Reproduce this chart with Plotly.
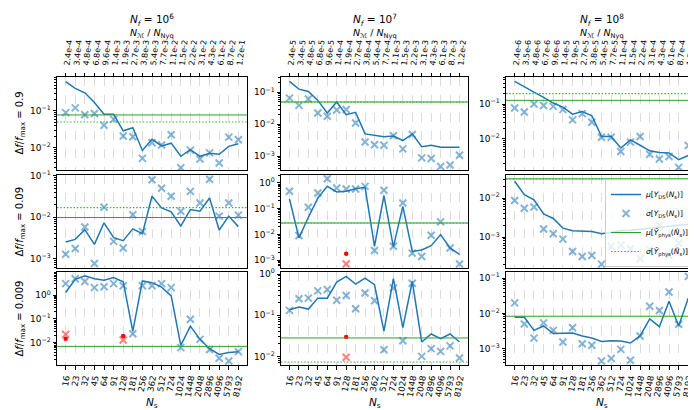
import plotly.graph_objects as go
from plotly.subplots import make_subplots

# ---------------- data ----------------
ns_labels = ["16", "23", "32", "45", "64", "91", "128", "181", "256", "362",
             "512", "724", "1024", "1448", "2048", "2896", "4096", "5793", "8192"]
ratio_nf6 = ["2.4e-4", "3.4e-4", "4.8e-4", "6.8e-4", "9.6e-4", "1.4e-3", "1.9e-3", "2.7e-3", "3.8e-3",
             "5.4e-3", "7.7e-3", "1.1e-2", "1.5e-2", "2.2e-2", "3.1e-2", "4.3e-2", "6.1e-2", "8.7e-2", "1.2e-1"]
ratio_nf7 = ["2.4e-5", "3.4e-5", "4.8e-5", "6.8e-5", "9.6e-5", "1.4e-4", "1.9e-4", "2.7e-4", "3.8e-4",
             "5.4e-4", "7.7e-4", "1.1e-3", "1.5e-3", "2.2e-3", "3.1e-3", "4.3e-3", "6.1e-3", "8.7e-3", "1.2e-2"]
ratio_nf8 = ["2.4e-6", "3.5e-6", "4.8e-6", "6.7e-6", "9.6e-6", "1.4e-5", "1.9e-5", "2.7e-5", "3.8e-5",
             "5.4e-5", "7.7e-5", "1.1e-4", "1.5e-4", "2.2e-4", "3.1e-4", "4.3e-4", "6.1e-4", "8.7e-4", "1.2e-3"]
nf_exponents = [6, 7, 8]
df_labels = ["0.9", "0.09", "0.009"]
y_tick_exponents = [-4, -3, -2, -1, 0, 1]
y_tick_labels = ["10<sup>−4</sup>", "10<sup>−3</sup>", "10<sup>−2</sup>", "10<sup>−1</sup>",
                 "10<sup>0</sup>", "10<sup>1</sup>"]

# Nf = 1e6
mu_nf6_df09 = [0.62, 0.41, 0.31, 0.17, 0.081, 0.081, 0.029, 0.035, 0.0085, 0.017, 0.0113, 0.0134,
               0.0059, 0.0089, 0.0059, 0.0071, 0.0067, 0.011, 0.0129]
sigma_nf6_df09 = [0.090, 0.121, 0.079, 0.085, 0.041, 0.059, 0.021, 0.020, 0.0052, 0.0137, 0.012, 0.0226,
                  0.0029, 0.0087, 0.0050, 0.0073, 0.0039, 0.0195, 0.0165]
mu_nf6_df009 = [0.0025, 0.0029, 0.0050, 0.0022, 0.0073, 0.0032, 0.0027, 0.0052, 0.0040, 0.032, 0.0167,
                0.0134, 0.0061, 0.0153, 0.0139, 0.029, 0.0049, 0.0106, 0.0059]
sigma_nf6_df009 = [0.00127, 0.00174, 0.0058, 0.00076, 0.0174, 0.0026, 0.0018, 0.0114, 0.0045, 0.080, 0.050,
                   0.032, 0.0139, 0.042, 0.022, 0.083, 0.0106, 0.022, 0.0112]
mu_nf6_df0009 = [1.3, 4.7, 6.6, 5.0, 4.3, 5.6, 3.7, 0.031, 4.0, 3.4, 2.2, 0.94, 0.0077, 0.050, 0.0138,
                 0.0056, 0.0032, 0.0039, 0.0042]
sigma_nf6_df0009 = [3.1, 5.0, 3.8, 2.1, 2.3, 3.1, 2.5, 0.024, 2.5, 2.5, 3.1, 2.1, 0.0062, 0.097, 0.0138,
                    0.0052, 0.0022, 0.0017, 0.0042]
# Nf = 1e7
mu_nf7_df09 = [0.22, 0.126, 0.107, 0.056, 0.0225, 0.050, 0.020, 0.0236, 0.0050, 0.0045, 0.0041, 0.0043,
               0.0031, 0.0050, 0.0020, 0.0022, 0.0019, 0.0019, 0.0019]
sigma_nf7_df09 = [0.066, 0.039, 0.062, 0.0225, 0.0178, 0.028, 0.029, 0.011, 0.0028, 0.0023, 0.0022, 0.0044,
                  0.0017, 0.0048, 0.00089, 0.00085, 0.00048, 0.00053, 0.00107]
mu_nf7_df009 = [0.24, 0.0074, 0.047, 0.26, 0.74, 0.45, 0.48, 0.60, 0.68, 0.0035, 0.32, 0.0033, 0.124,
                0.0022, 0.0025, 0.0037, 0.0099, 0.0030, 0.0017]
sigma_nf7_df009 = [0.48, 0.0091, 0.114, 0.41, 1.47, 0.64, 0.58, 0.58, 0.74, 0.0024, 0.52, 0.0035, 0.168,
                   0.0019, 0.0014, 0.0093, 0.031, 0.0030, 0.00072]
mu_nf7_df0009 = [0.136, 0.158, 0.141, 0.26, 0.26, 0.64, 0.88, 0.57, 0.80, 0.55, 0.041, 0.77, 0.050, 0.66,
                 0.0223, 0.035, 0.027, 0.035, 0.0223]
sigma_nf7_df0009 = [0.131, 0.25, 0.26, 0.39, 0.42, 0.23, 0.30, 0.144, 0.345, 0.224, 0.0145, 0.46, 0.024,
                    0.60, 0.0100, 0.0154, 0.0132, 0.018, 0.0091]
# Nf = 1e8
mu_nf8_df09 = [0.45, 0.31, 0.22, 0.156, 0.107, 0.082, 0.051, 0.061, 0.046, 0.0116, 0.0116, 0.0054, 0.0093,
               0.0065, 0.0045, 0.0040, 0.0039, 0.0025, 0.0033]
sigma_nf8_df09 = [0.077, 0.059, 0.10, 0.091, 0.086, 0.069, 0.035, 0.053, 0.030, 0.0110, 0.0110, 0.0043,
                  0.0080, 0.0116, 0.0036, 0.0026, 0.0031, 0.0015, 0.0064]
mu_nf8_df009 = [0.027, 0.0122, 0.0090, 0.0039, 0.0030, 0.0017, 0.00146, 0.00140, 0.00140, 0.00122, 0.00135,
                0.00146, 0.0015, 0.0016, 0.0017, 0.0018, 0.0019, 0.0020, 0.0021]
sigma_nf8_df009 = [0.0087, 0.0055, 0.0059, 0.00162, 0.00122, 0.00089, 0.00043, 0.00032, 0.00034, 0.000204,
                   0.00058, 0.00063, 0.00050, 0.00028, 0.00048, 0.002, 0.00034, 0.00070, 0.00041]
mu_nf8_df0009 = [0.0078, 0.0078, 0.0033, 0.0044, 0.0027, 0.0027, 0.0028, 0.0023, 0.0020, 0.00161, 0.00169,
                 0.00165, 0.00145, 0.0023, 0.0070, 0.0042, 0.022, 0.0044, 0.027]
sigma_nf8_df0009 = [0.0198, 0.0050, 0.0020, 0.0054, 0.0033, 0.00155, 0.0039, 0.00139, 0.00126, 0.00045,
                    0.00053, 0.00096, 0.00047, 0.0023, 0.0159, 0.0120, 0.040, 0.0049, 0.111]

# physical reference levels, rows = df, cols = Nf
phys_mu = [[0.078, 0.050, 0.128],
           [0.0098, 0.028, 0.031],
           [0.0070, 0.028, 0.0083]]
phys_sigma = [[0.050, 0.049, 0.20],
              [0.017, 0.028, 0.031],
              [None, 0.0073, None]]

# red markers: (row, col, category index, value)
red_dot = [(3, 1, 0, 0.0148), (3, 1, 6, 0.019), (2, 2, 6, 0.0018), (3, 2, 6, 0.0295)]
red_x = [(3, 1, 0, 0.0224), (3, 1, 6, 0.0130), (2, 2, 6, 0.00072), (3, 2, 6, 0.0095)]

mu_grid = [[mu_nf6_df09, mu_nf7_df09, mu_nf8_df09],
           [mu_nf6_df009, mu_nf7_df009, mu_nf8_df009],
           [mu_nf6_df0009, mu_nf7_df0009, mu_nf8_df0009]]
sigma_grid = [[sigma_nf6_df09, sigma_nf7_df09, sigma_nf8_df09],
              [sigma_nf6_df009, sigma_nf7_df009, sigma_nf8_df009],
              [sigma_nf6_df0009, sigma_nf7_df0009, sigma_nf8_df0009]]
ratio_grid = [ratio_nf6, ratio_nf7, ratio_nf8]

# ---------------- style ----------------
W, H = 696, 410
BLUE = "#1f77b4"
BLUE_A = "rgba(31,119,180,0.55)"
GREEN = "#2ca02c"
GREEN_DOT = "#3cb43c"
DOT = "1.5px,1.8px"
FONT = "DejaVu Sans"

col_px = [(49, 239), (273, 460), (498, 689)]
row_px = [(69, 162), (167, 260), (264, 357)]
yranges = [[(-2.6, -0.08), (-3.43, -0.52), (-2.90, -0.22)],
           [(-3.23, -0.98), (-3.30, 0.31), (-3.79, -1.41)],
           [(-2.94, 0.98), (-2.21, 0.05), (-3.46, -0.83)]]

fig = make_subplots(rows=3, cols=3)
idx = list(range(len(ns_labels)))
y_tick_vals = [10.0 ** e for e in y_tick_exponents]

mu_name = "<i>μ</i>[<i>Y</i><sub>DS</sub>(<i>N</i><sub>s</sub>)]"
sg_name = "<i>σ</i>[<i>Y</i><sub>DS</sub>(<i>N</i><sub>s</sub>)]"
pmu_name = "<i>μ</i>[<i>Ŷ</i><sub>phys</sub>(<i>N̂</i><sub>s</sub>)]"
psg_name = "<i>σ</i>[<i>Ŷ</i><sub>phys</sub>(<i>N̂</i><sub>s</sub>)]"

for r in range(3):
    for c in range(3):
        R, C = r + 1, c + 1
        first = (r == 0 and c == 0)
        fig.add_trace(go.Scatter(x=idx, y=sigma_grid[r][c], mode="markers", name=sg_name,
                                 legendrank=2, showlegend=first,
                                 marker=dict(symbol="x-thin", size=7, color=BLUE_A,
                                             line=dict(width=2, color=BLUE_A))), row=R, col=C)
        fig.add_trace(go.Scatter(x=idx, y=mu_grid[r][c], mode="lines", name=mu_name,
                                 legendrank=1, showlegend=first,
                                 line=dict(color=BLUE, width=1.5)), row=R, col=C)
        if phys_mu[r][c] is not None:
            fig.add_hline(y=phys_mu[r][c], line=dict(color=GREEN, width=1), row=R, col=C)
        if phys_sigma[r][c] is not None:
            fig.add_hline(y=phys_sigma[r][c], line=dict(color=GREEN_DOT, width=1.1, dash=DOT), row=R, col=C)

for (R, C, i, v) in red_x:
    fig.add_trace(go.Scatter(x=[i], y=[v], mode="markers", showlegend=False,
                             marker=dict(symbol="x-thin", size=7, color="rgba(255,0,0,0.5)",
                                         line=dict(width=2, color="rgba(255,0,0,0.5)"))), row=R, col=C)
for (R, C, i, v) in red_dot:
    fig.add_trace(go.Scatter(x=[i], y=[v], mode="markers", showlegend=False,
                             marker=dict(symbol="circle", size=4.5, color="red")), row=R, col=C)

# legend-only entries for the green reference lines
fig.add_trace(go.Scatter(x=[None], y=[None], mode="lines", name=pmu_name, legendrank=3,
                         line=dict(color=GREEN, width=1)), row=1, col=1)
fig.add_trace(go.Scatter(x=[None], y=[None], mode="lines", name=psg_name, legendrank=4,
                         line=dict(color=GREEN_DOT, width=1.1, dash=DOT)), row=1, col=1)

for r in range(3):
    for c in range(3):
        R, C = r + 1, c + 1
        x0, x1 = col_px[c]
        y0, y1 = row_px[r]
        xa = dict(domain=[x0 / W, x1 / W], range=[-0.9, len(ns_labels) - 0.1], automargin=False,
                  tickvals=idx, showgrid=True, gridcolor="#dcdcdc", griddash="dash", gridwidth=0.7,
                  showline=True, linecolor="black", linewidth=1, mirror=True, zeroline=False,
                  tickfont=dict(size=8, color="black", family=FONT), tickangle=-84,
                  ticks="outside", ticklen=3.5, tickcolor="black")
        if r == 0:
            xa.update(side="top", ticktext=ratio_grid[c], showticklabels=True)
        elif r == 2:
            xa.update(ticktext=ns_labels, showticklabels=True, tickangle=-80,
                      tickfont=dict(size=8.5, color="black", family=FONT))
        else:
            xa.update(ticktext=ns_labels, showticklabels=False, ticks="")
        fig.update_xaxes(row=R, col=C, **xa)
        fig.update_yaxes(row=R, col=C, type="log", range=list(yranges[r][c]), automargin=False,
                         domain=[1 - y1 / H, 1 - y0 / H], tickmode="array",
                         tickvals=y_tick_vals, ticktext=y_tick_labels,
                         showgrid=False, zeroline=False,
                         showline=True, linecolor="black", linewidth=1, mirror=True,
                         ticks="outside", ticklen=3.5, tickcolor="black",
                         minor=dict(ticks="outside", ticklen=2, tickcolor="black", dtick="D1", showgrid=False),
                         tickfont=dict(size=9, color="black", family=FONT))

ann = []
for c in range(3):
    cx = (col_px[c][0] + col_px[c][1]) / 2 / W
    ann.append(dict(x=cx, y=1 - 12 / H, xref="paper", yref="paper", showarrow=False,
                    xanchor="center", yanchor="middle",
                    text="<i>N<sub>f</sub></i> = 10<sup>%d</sup>" % nf_exponents[c],
                    font=dict(size=10.5, family=FONT, color="black")))
    ann.append(dict(x=cx, y=1 - 25 / H, xref="paper", yref="paper", showarrow=False,
                    xanchor="center", yanchor="middle",
                    text="<i>N</i><sub>ℳ</sub> / <i>N</i><sub>Nyq</sub>",
                    font=dict(size=9.5, family=FONT, color="black")))
    ann.append(dict(x=cx, y=1 - 395 / H, xref="paper", yref="paper", showarrow=False,
                    xanchor="center", yanchor="middle",
                    text="<i>N</i><sub>s</sub>", font=dict(size=10.5, family=FONT, color="black")))
for r in range(3):
    cy = 1 - (row_px[r][0] + row_px[r][1]) / 2 / H
    ann.append(dict(x=12 / W, y=cy, xref="paper", yref="paper", showarrow=False, textangle=-90,
                    xanchor="center", yanchor="middle",
                    text="Δ<i>f</i>/<i>f</i><sub>max</sub> = %s" % df_labels[r],
                    font=dict(size=10, family=FONT, color="black")))

fig.update_layout(width=W, height=H, margin=dict(l=0, r=0, t=0, b=0, autoexpand=False),
                  paper_bgcolor="white", plot_bgcolor="white",
                  font=dict(family=FONT, color="black"),
                  annotations=ann,
                  legend=dict(x=688 / W, y=1 - 171 / H, xanchor="right", yanchor="top",
                              bgcolor="rgba(255,255,255,0.8)", bordercolor="#cccccc", borderwidth=1,
                              font=dict(size=7.5, family=FONT), tracegroupgap=0, itemwidth=30))

fig.write_html("out.html")
